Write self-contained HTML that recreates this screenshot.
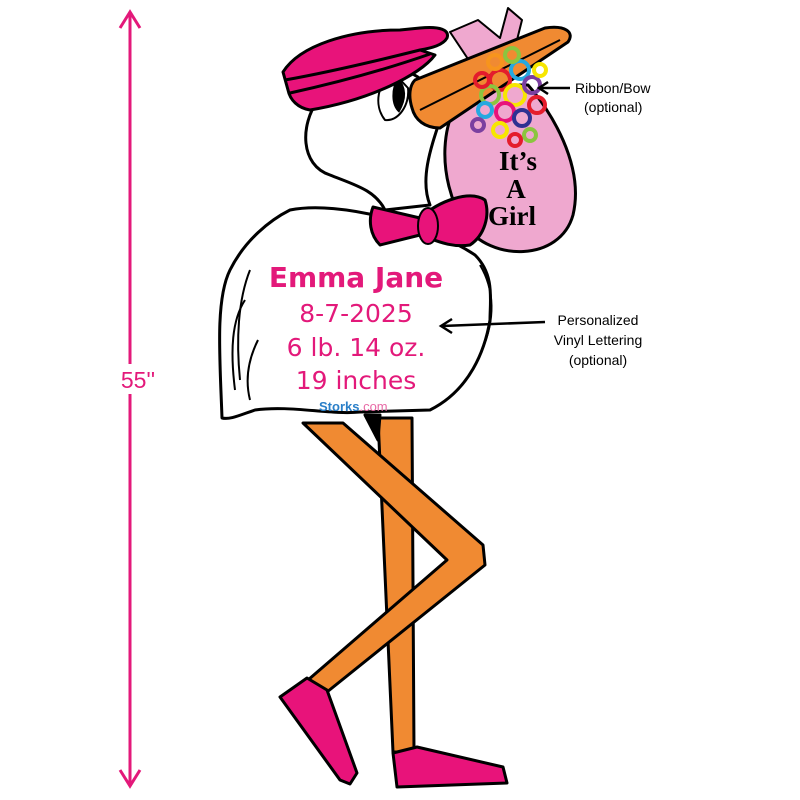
<!DOCTYPE html>
<html><head><meta charset="utf-8"><style>
html,body{margin:0;padding:0;background:#fff;width:800px;height:800px;overflow:hidden}
</style></head><body>
<svg width="800" height="800" viewBox="0 0 800 800" xmlns="http://www.w3.org/2000/svg" font-family="Liberation Sans, sans-serif">
<g stroke="#e3197a" stroke-width="3" fill="none">
<line x1="130" y1="12" x2="130" y2="786"/>
<polyline points="120,28 130,12 140,28"/>
<polyline points="120,770 130,786 140,770"/>
</g>
<rect x="113" y="364" width="50" height="30" fill="#fff"/>
<text x="138" y="388" font-size="23" fill="#e3197a" text-anchor="middle">55''</text>

<g stroke="#000" stroke-width="3" stroke-linejoin="round">
<polygon points="378,418 412,418 414,752 393,752" fill="#f08a32"/>
<polygon points="303,423 343,423 483,545 485,565 327,692 308,680 447,560" fill="#f08a32"/>
<polygon points="365,415 380,415 378,440" fill="#000"/>
<polygon points="280,697 307,678 327,690 357,773 350,784 340,780" fill="#e8137a"/>
<polygon points="393,753 417,747 503,767 507,783 397,787" fill="#e8137a"/>
<!-- bag -->
<path d="M470,85 C440,115 435,175 465,225 C490,262 560,262 573,215 C585,165 550,110 528,85 Z" fill="#efa8cf"/>
<path d="M450,32 L478,20 L500,38 L508,8 L522,20 L515,48 L470,62 Z" fill="#efa8cf" stroke-width="2"/>
<!-- body -->
<path d="M290,210 C340,200 430,225 475,255 C495,275 490,300 490,320 C485,350 470,390 430,410 L360,412 C330,415 290,405 255,410 C240,415 230,420 222,418 C220,360 215,300 230,270 C245,240 270,220 290,210 Z" fill="#fff"/>
<!-- head/neck -->
<path d="M318,100 C300,125 300,165 330,175 C355,185 375,190 385,210 L430,205 C420,180 430,150 440,120 C445,95 420,72 395,68 C360,65 330,85 318,100 Z" fill="#fff"/>
<path d="M393,72 C378,82 373,105 385,120 C398,122 410,105 408,88 Z" fill="#fff" stroke-width="2"/>
<path d="M398,78 C391,88 391,105 399,112 C406,100 407,88 398,78 Z" fill="#000" stroke-width="1"/>
<!-- beak -->
<path d="M415,80 L545,28 C565,25 575,32 568,42 L440,128 C425,128 415,120 412,108 C408,95 410,85 415,80 Z" fill="#f08a32"/>
<line x1="420" y1="110" x2="560" y2="40" stroke-width="2"/>
<!-- hat -->
<path d="M283,72 C300,45 350,30 400,30 L420,28 C440,26 450,30 447,38 C443,45 432,48 420,50 L435,55 C420,75 370,100 310,110 C298,108 290,100 288,90 Z" fill="#e8137a"/>
<path d="M285,80 C330,72 380,60 420,50 M290,93 C340,82 390,68 430,54" fill="none" stroke-width="3"/>
<!-- bow tie -->
<path d="M373,207 L420,218 C440,200 470,190 485,200 C490,215 485,235 470,245 C450,248 435,240 420,235 L380,245 C370,235 368,220 373,207 Z" fill="#e8137a"/>
<ellipse cx="428" cy="226" rx="10" ry="18" fill="#e8137a" stroke-width="2"/>
</g>
<g stroke="#000" stroke-width="2" fill="none">
<path d="M250,270 C238,300 236,340 240,380"/>
<path d="M245,300 C232,320 230,350 235,390"/>
<path d="M258,340 C248,360 245,380 250,400"/>
<path d="M480,265 C495,290 495,320 482,350"/>
</g>
<!-- ribbon -->
<g fill="none" stroke-width="4">
<circle cx="500" cy="80" r="10" stroke="#e41c2c"/><circle cx="520" cy="70" r="9" stroke="#26a8e0"/>
<circle cx="490" cy="95" r="9" stroke="#8bc53f"/><circle cx="515" cy="95" r="10" stroke="#f7e600"/>
<circle cx="532" cy="85" r="8" stroke="#7b3fa0"/><circle cx="505" cy="112" r="9" stroke="#e8137a"/>
<circle cx="522" cy="118" r="8" stroke="#2e3192"/><circle cx="495" cy="62" r="7" stroke="#f7941d"/>
<circle cx="537" cy="105" r="8" stroke="#e41c2c"/><circle cx="500" cy="130" r="7" stroke="#f7e600"/>
<circle cx="482" cy="80" r="7" stroke="#e41c2c"/><circle cx="512" cy="55" r="7" stroke="#8bc53f"/>
<circle cx="485" cy="110" r="7" stroke="#26a8e0"/><circle cx="530" cy="135" r="6" stroke="#8bc53f"/>
<circle cx="515" cy="140" r="6" stroke="#e41c2c"/><circle cx="540" cy="70" r="6" stroke="#f7e600"/>
<circle cx="478" cy="125" r="6" stroke="#7b3fa0"/>
</g>
<g font-family="Liberation Serif, serif" font-weight="bold" fill="#000" text-anchor="middle" font-size="27">
<text x="518" y="170">It’s</text>
<text x="516" y="198">A</text>
<text x="512" y="225">Girl</text>
</g>
<g fill="#e3197a" text-anchor="middle" font-family="DejaVu Sans, sans-serif">
<text x="356" y="287" font-size="28" font-weight="bold">Emma Jane</text>
<text x="356" y="322" font-size="25">8-7-2025</text>
<text x="356" y="356" font-size="25">6 lb.  14 oz.</text>
<text x="356" y="389" font-size="25">19 inches</text>
</g>
<text x="319" y="411" font-size="13" font-weight="bold" fill="#2a7fc8">Storks<tspan fill="#e86aa6" font-weight="normal">.com</tspan></text>
<g stroke="#000" stroke-width="2.5" fill="none">
<line x1="570" y1="88" x2="540" y2="88"/><polyline points="548,82 539,88 548,94"/>
<line x1="545" y1="322" x2="442" y2="326"/><polyline points="452,319 441,326 452,333"/>
</g>
<g font-size="14" fill="#000">
<text x="575" y="93">Ribbon/Bow</text>
<text x="584" y="112">(optional)</text>
</g>
<g font-size="14" fill="#000" text-anchor="middle">
<text x="598" y="325">Personalized</text>
<text x="598" y="345">Vinyl Lettering</text>
<text x="598" y="365">(optional)</text>
</g>
</svg>
</body></html>
